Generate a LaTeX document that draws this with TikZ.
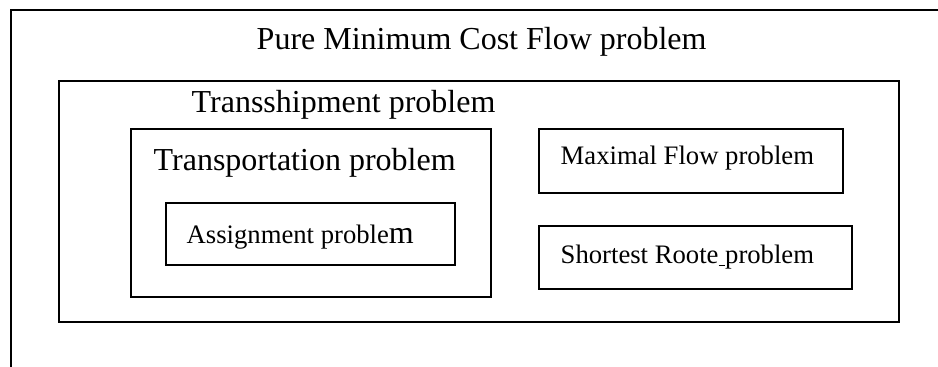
\documentclass[tikz,border=0pt]{standalone}
\usepackage{fontspec}
\setmainfont{Liberation Serif}
\usetikzlibrary{fit}
\begin{document}
\begin{tikzpicture}[x=0.75pt,y=-0.75pt,line width=1.1pt,
  box/.style={draw,inner sep=0pt,line width=1.1pt},
  big/.style={inner sep=0pt,anchor=base west,font=\fontsize{24}{28}\selectfont},
  small/.style={inner sep=0pt,anchor=base west,font=\fontsize{20}{24}\selectfont}]
\clip (0,0) rectangle (938,367);
\fill[white] (0,0) rectangle (938,367);
% outer (cut-off) frame
\coordinate (o1) at (11,380);
\coordinate (o2) at (11,10);
\coordinate (o3) at (950,10);
\draw (o1) -- (o2) -- (o3);
% boxes
\coordinate (t1) at (59,81);  \coordinate (t2) at (899,322);
\node[box,fit=(t1)(t2)] (trans) {};
\coordinate (p1) at (131,129); \coordinate (p2) at (491,297);
\node[box,fit=(p1)(p2)] (transp) {};
\coordinate (a1) at (166,203); \coordinate (a2) at (455,265);
\node[box,fit=(a1)(a2)] (assign) {};
\coordinate (m1) at (539,129); \coordinate (m2) at (843,193);
\node[box,fit=(m1)(m2)] (maxflow) {};
\coordinate (s1) at (539,226); \coordinate (s2) at (852,289);
\node[box,fit=(s1)(s2)] (short) {};
% labels
\node[big] (lpure) at (256,50) {Pure Minimum Cost Flow problem};
\node[big] (ltrans) at (191,113) {Transshipment problem};
\node[big] (ltransp) at (153,171) {Transportation problem};
\node[small] (lassign) at (186,243) {Assignment proble{\fontsize{24}{28}\selectfont m}};
\node[small] (lmax) at (560,165) {Maximal Flow problem};
\node[small] (lshort) at (560,263) {Shortest Roote\underline{\ }problem};
\end{tikzpicture}
\end{document}
